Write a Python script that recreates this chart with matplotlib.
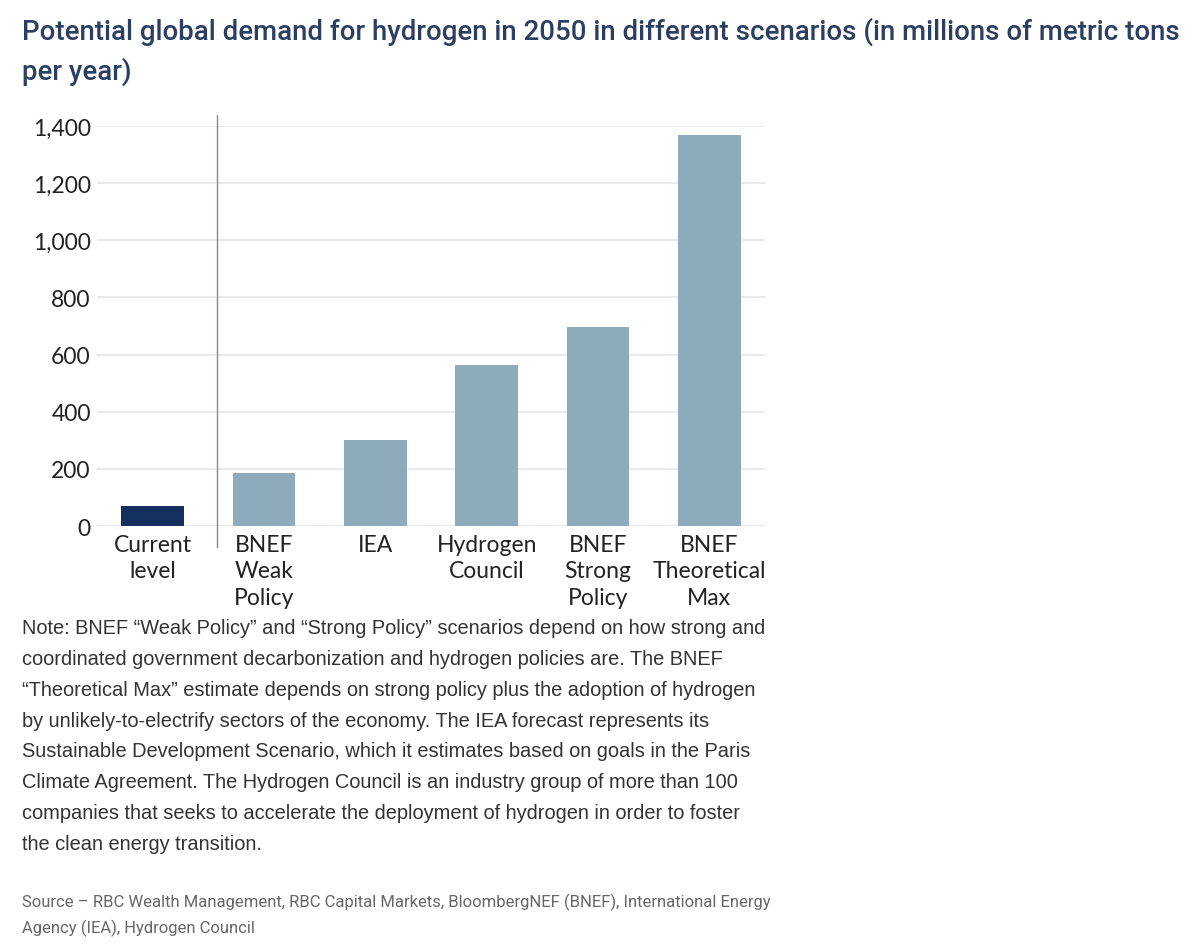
import numpy as np
import matplotlib.pyplot as plt

# data
categories = ['Current\nlevel', 'BNEF\nWeak\nPolicy', 'IEA', 'Hydrogen\nCouncil',
              'BNEF\nStrong\nPolicy', 'BNEF\nTheoretical\nMax']
demand = [70, 187, 300, 565, 695, 1370]
yticks = [0, 200, 400, 600, 800, 1000, 1200, 1400]

title = ('Potential global demand for hydrogen in 2050 in different scenarios (in millions of metric tons\n'
         'per year)')
note = ('Note: BNEF \u201cWeak Policy\u201d and \u201cStrong Policy\u201d scenarios depend on how strong and\n'
        'coordinated government decarbonization and hydrogen policies are. The BNEF\n'
        '\u201cTheoretical Max\u201d estimate depends on strong policy plus the adoption of hydrogen\n'
        'by unlikely-to-electrify sectors of the economy. The IEA forecast represents its\n'
        'Sustainable Development Scenario, which it estimates based on goals in the Paris\n'
        'Climate Agreement. The Hydrogen Council is an industry group of more than 100\n'
        'companies that seeks to accelerate the deployment of hydrogen in order to foster\n'
        'the clean energy transition.')
source = ('Source \u2013 RBC Wealth Management, RBC Capital Markets, BloombergNEF (BNEF), International Energy\n'
          'Agency (IEA), Hydrogen Council')

W, H = 1200, 953
fig = plt.figure(figsize=(W / 100, H / 100), dpi=100)
ax = fig.add_axes([97 / W, 1 - 527 / H, (765 - 97) / W, 400 / H])

colors = ['#14305f'] + ['#8eabbb'] * (len(demand) - 1)
x = np.arange(len(categories))
ax.bar(x, demand, width=0.56, color=colors, zorder=3)

ax.set_xlim(-0.5, len(categories) - 0.5)
ax.set_ylim(0, 1400)
ax.set_yticks(yticks)
ax.set_yticklabels([f'{v:,}' for v in yticks])
ax.set_xticks(x)
ax.set_xticklabels(categories, linespacing=1.3)
ax.grid(axis='y', color='#e6e6e6', linewidth=1.2, zorder=0)
for s in ax.spines.values():
    s.set_visible(False)
ax.tick_params(axis='y', length=0, pad=4.5, labelsize=16.5, labelcolor='#222222')
ax.tick_params(axis='x', length=0, pad=6, labelsize=16.5, labelcolor='#222222')
for lab in ax.get_xticklabels() + ax.get_yticklabels():
    lab.set_fontfamily('Lato')

# separator between current level and the scenarios
ax.plot([0.575, 0.575], [-75, 1440], color='#7f8aa3', linewidth=1, clip_on=False, zorder=4)

fig.text(22 / W, 1 - 18 / H, title, ha='left', va='top', fontsize=19.9, fontfamily='Roboto',
         fontweight='medium', color='#2b3f63', linespacing=1.49)
fig.text(22 / W, 1 - 619 / H, note, ha='left', va='top', fontsize=14.4, fontfamily='Liberation Sans',
         color='#333333', linespacing=1.79)
fig.text(22 / W, 1 - 894 / H, source, ha='left', va='top', fontsize=12, fontfamily='Roboto',
         color='#666666', linespacing=1.6)

fig.savefig('out.png', dpi=100, facecolor='white')
